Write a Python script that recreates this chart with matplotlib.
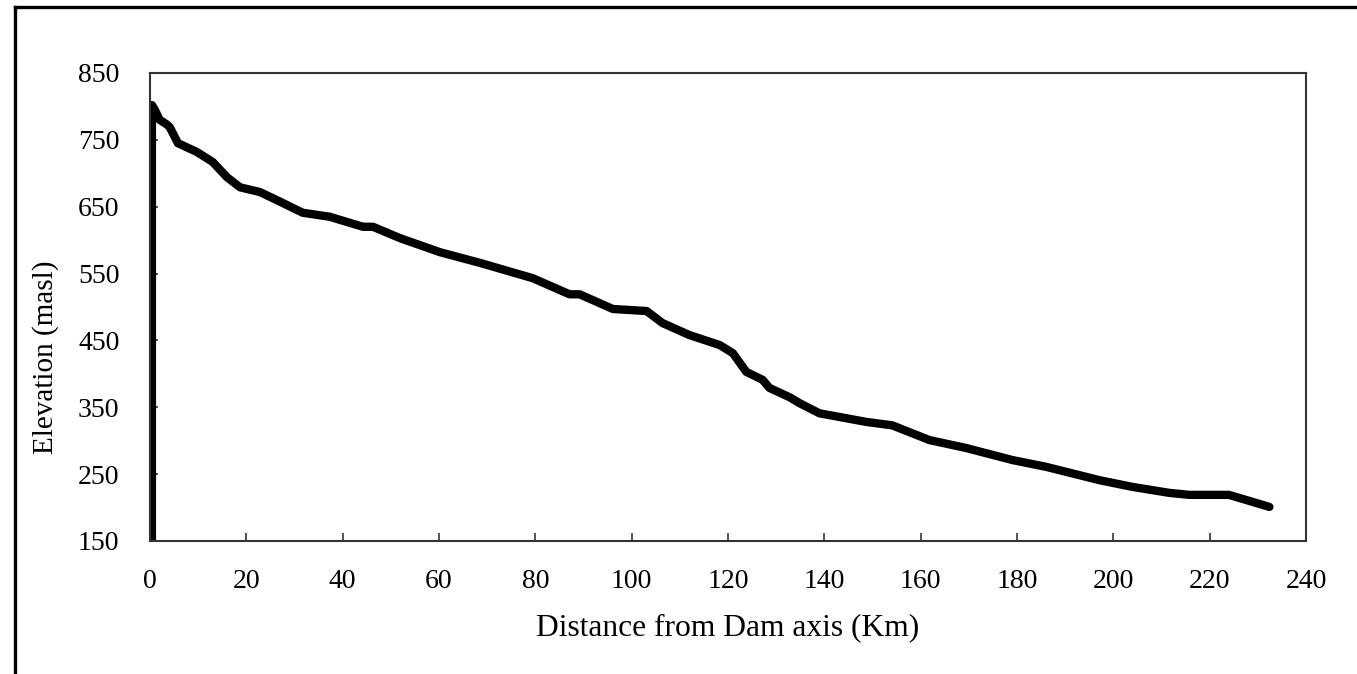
import matplotlib
matplotlib.use("Agg")
import matplotlib.pyplot as plt
from matplotlib.lines import Line2D

distance_km = [0.4, 0.4, 1, 2, 3.5, 4.1, 5.8, 9.7, 13, 16, 18.7, 22.8, 26.3, 31.7, 37.3,
               44.2, 46.3, 51.9, 60.2, 68.5, 79.5, 87.1, 89.2, 96.1, 103.1, 106.4,
               112, 118.3, 121, 123.8, 127.2, 128.6, 132.8, 134.9, 139, 148.8, 154.1,
               161.8, 169.5, 179.1, 186, 197.1, 203.9, 211.6, 215.8, 224, 232.4]
elevation_m = [150, 802, 795, 780, 773, 769, 745, 732, 717, 694, 679, 672, 660, 641, 635,
               620, 620, 603, 582, 566, 543, 519, 519, 497, 494, 476,
               458, 443, 431, 403, 391, 379, 365, 356, 341, 328, 323,
               301, 289, 271, 261, 241, 231, 222, 219, 219, 201]

x_ticks = list(range(0, 241, 20))
y_ticks = list(range(150, 851, 100))

plt.rcParams['font.family'] = ['Liberation Serif', 'DejaVu Serif']

fig = plt.figure(figsize=(13.57, 6.74), dpi=100)
ax = fig.add_axes([150/1357, 1-541/674, (1306-150)/1357, (541-73)/674])

ax.plot(distance_km, elevation_m, color='black', linewidth=6.0,
        solid_joinstyle='round', solid_capstyle='round')

ax.set_xlim(0, 240)
ax.set_ylim(150, 850)
ax.set_xticks(x_ticks)
ax.set_yticks(y_ticks)
ax.tick_params(direction='in', length=6, width=1.2, labelsize=20, color='#333333')
ax.tick_params(axis='y', pad=22)
ax.tick_params(axis='x', pad=20)
for s in ax.spines.values():
    s.set_linewidth(1.5)
    s.set_color('#333333')

ax.set_xlabel('Distance from Dam axis (Km)', fontsize=22.7, labelpad=14)
ax.set_ylabel('Elevation (masl)', fontsize=21)
ax.yaxis.set_label_coords(-0.079, 0.393)

# outer frame
fig.add_artist(Line2D([15/1357, 15/1357], [0, 1-7/674], transform=fig.transFigure,
                      color='black', linewidth=2.4))
fig.add_artist(Line2D([15/1357, 1], [1-7/674, 1-7/674], transform=fig.transFigure,
                      color='black', linewidth=2.4))

fig.savefig('out.png', dpi=100, facecolor='white')
